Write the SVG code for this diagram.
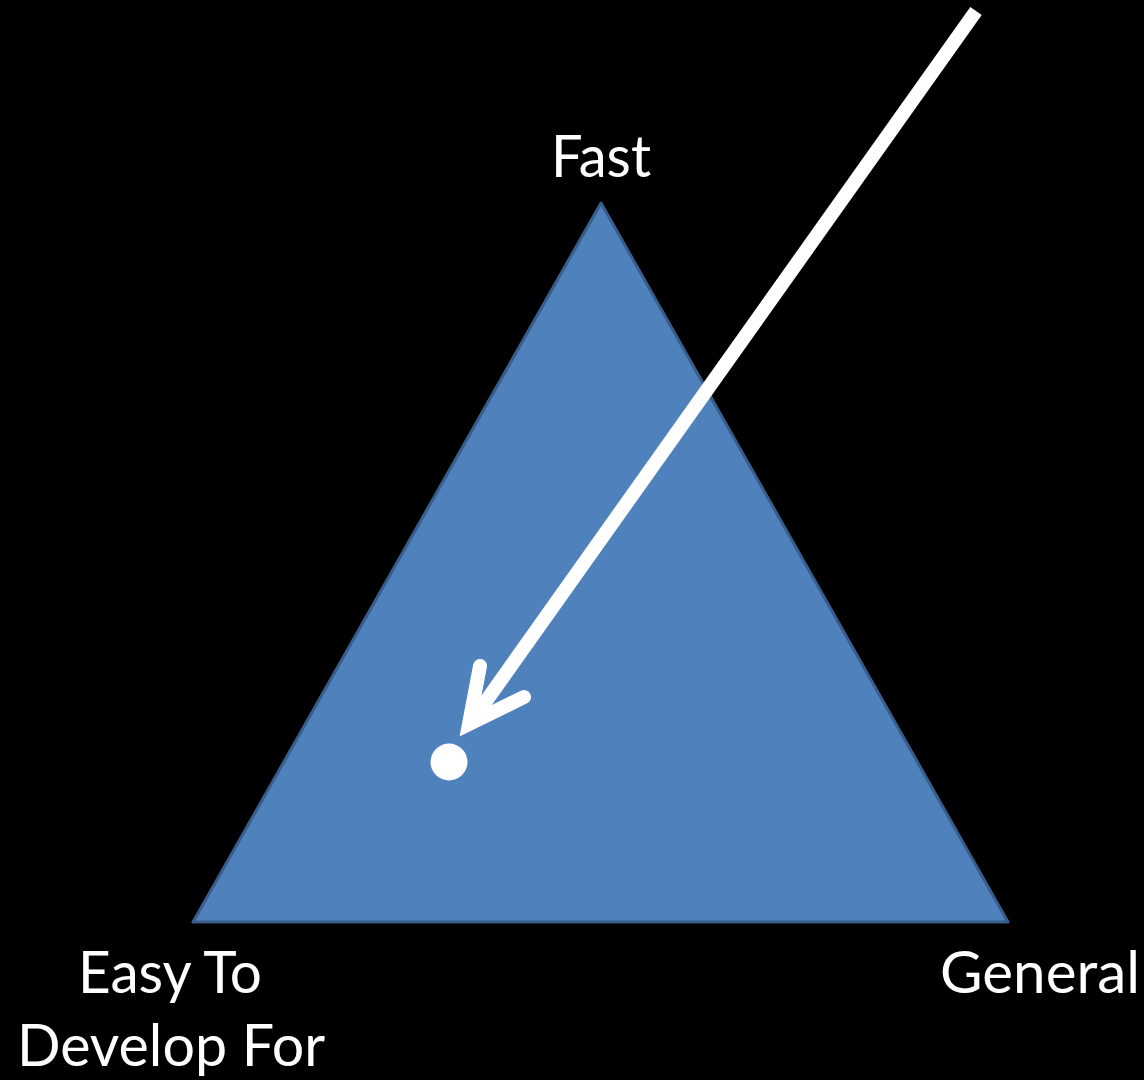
<svg xmlns="http://www.w3.org/2000/svg" width="1144" height="1080" viewBox="0 0 1144 1080">
<style>
.lbl{font-family:Lato,"Open Sans","Liberation Sans",sans-serif;font-size:58px;fill:#fff;text-anchor:middle}
</style>
<rect width="1144" height="1080" fill="#000"/>
<g id="triangle">
<polygon points="601,203 193,922 1008,922" fill="#4F81BD" stroke="#385D8A" stroke-width="3" stroke-linejoin="round"/>
</g>
<g id="label-fast"><text class="lbl" x="601" y="177" textLength="100" lengthAdjust="spacingAndGlyphs">Fast</text></g>
<g id="label-easy">
<text class="lbl" x="170" y="993" textLength="184" lengthAdjust="spacingAndGlyphs">Easy To</text>
<text class="lbl" x="171" y="1066" textLength="308" lengthAdjust="spacingAndGlyphs">Develop For</text>
</g>
<g id="label-general"><text class="lbl" x="1040" y="993" textLength="200" lengthAdjust="spacingAndGlyphs">General</text></g>
<g id="point"><circle cx="449" cy="762" r="18.5" fill="#fff"/></g>
<g id="connectors">
<line x1="976" y1="11" x2="474" y2="718" stroke="#fff" stroke-width="14" stroke-linecap="butt"/>
<polyline points="480,666 469,724 524,697" fill="none" stroke="#fff" stroke-width="14" stroke-linecap="round" stroke-linejoin="miter" stroke-miterlimit="10"/>
</g>
</svg>
